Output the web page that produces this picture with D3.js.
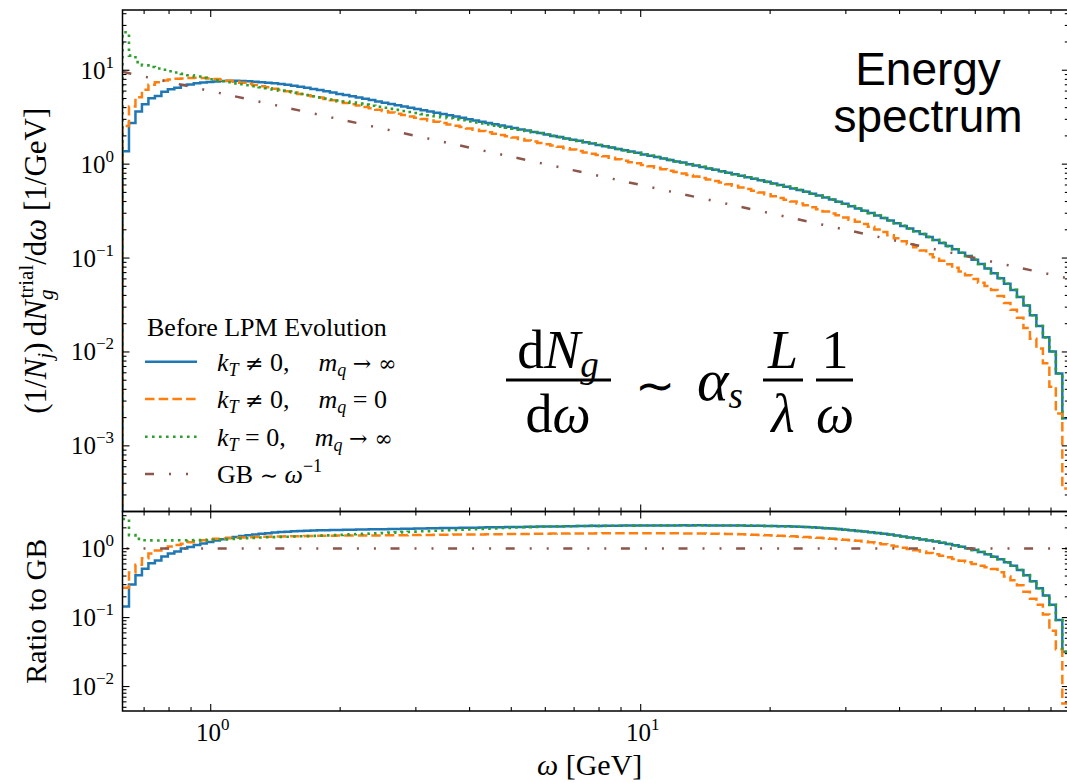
<!DOCTYPE html>
<html><head><meta charset="utf-8">
<script src="https://cdn.jsdelivr.net/npm/d3@7"></script>
<style>
body{margin:0;background:#fff;}
svg text{font-family:"Liberation Serif","Times New Roman",serif;fill:#000;}
</style></head><body>
<svg id="chart" width="1067" height="783" xmlns="http://www.w3.org/2000/svg"></svg>
<script>
// ---- binning (log-spaced histogram bins in omega, GeV) ----
const omegaMin = 0.6235, omegaMax = 99.0, nBins = 146;

// ---- spectrum values per bin (1/GeV) ----
const blueValues = [1.37, 2.75, 3.63, 4.35, 5.03, 5.33, 5.9, 6.28, 6.52, 6.95,
 7.05, 7.25, 7.4, 7.5, 7.6, 7.68, 7.72, 7.72, 7.68, 7.62,
 7.55, 7.47, 7.38, 7.27, 7.14, 6.99, 6.83, 6.66, 6.49, 6.32,
 6.15, 5.97, 5.79, 5.60, 5.44, 5.28, 5.12, 4.97, 4.81, 4.66,
 4.51, 4.38, 4.25, 4.12, 3.99, 3.87, 3.76, 3.64, 3.53, 3.42,
 3.31, 3.21, 3.11, 3.01, 2.92, 2.83, 2.75, 2.66, 2.58, 2.50,
 2.42, 2.34, 2.28, 2.20, 2.14, 2.07, 2.00, 1.94, 1.88, 1.82,
 1.77, 1.71, 1.66, 1.60, 1.55, 1.50, 1.45, 1.41, 1.36, 1.32,
 1.27, 1.23, 1.19, 1.15, 1.11, 1.07, 1.04, 1.00, 0.968, 0.935,
 0.901, 0.870, 0.838, 0.809, 0.780, 0.753, 0.726, 0.699, 0.674, 0.648,
 0.624, 0.600, 0.576, 0.552, 0.530, 0.508, 0.485, 0.463, 0.441, 0.419,
 0.398, 0.378, 0.357, 0.338, 0.319, 0.301, 0.284, 0.267, 0.251, 0.235,
 0.220, 0.206, 0.193, 0.180, 0.168, 0.156, 0.145, 0.134, 0.124, 0.114,
 0.105, 0.0959, 0.0864, 0.0773, 0.0690, 0.0611, 0.0532, 0.0458, 0.0385, 0.0313,
 0.0246, 0.0189, 0.0143, 0.0101, 0.00589, 0.00197];

const orangeValues = [2.55, 4.10, 5.15, 6.18, 6.99, 7.45, 7.77, 7.96, 8.10, 8.16,
 8.26, 8.30, 8.25, 8.18, 8.05, 7.90, 7.73, 7.55, 7.36, 7.17,
 6.97, 6.77, 6.57, 6.37, 6.17, 5.98, 5.79, 5.60, 5.43, 5.27,
 5.11, 4.95, 4.79, 4.64, 4.48, 4.34, 4.20, 4.05, 3.93, 3.79,
 3.67, 3.55, 3.44, 3.33, 3.22, 3.12, 3.02, 2.92, 2.83, 2.74,
 2.65, 2.57, 2.48, 2.40, 2.33, 2.25, 2.18, 2.11, 2.04, 1.98,
 1.92, 1.85, 1.79, 1.74, 1.68, 1.63, 1.58, 1.53, 1.48, 1.43,
 1.38, 1.33, 1.29, 1.25, 1.21, 1.17, 1.13, 1.09, 1.05, 1.02,
 0.981, 0.948, 0.915, 0.884, 0.852, 0.823, 0.793, 0.765, 0.737, 0.711,
 0.685, 0.660, 0.636, 0.611, 0.587, 0.565, 0.542, 0.520, 0.498, 0.477,
 0.456, 0.437, 0.418, 0.399, 0.381, 0.364, 0.347, 0.330, 0.314, 0.299,
 0.285, 0.270, 0.256, 0.243, 0.230, 0.216, 0.202, 0.189, 0.175, 0.163,
 0.151, 0.140, 0.130, 0.120, 0.110, 0.102, 0.0938, 0.0861, 0.0788, 0.0719,
 0.0656, 0.0598, 0.0545, 0.0503, 0.0458, 0.0395, 0.0332, 0.0282, 0.0232, 0.0180,
 0.0138, 0.0109, 0.0076, 0.00427, 0.00221, 0.000351];

const greenValues = [25.4, 14.3, 12.2, 11.27, 10.81, 10.44, 10.11, 9.76, 9.45, 9.15,
 8.85, 8.57, 8.30, 8.03, 7.80, 7.62, 7.45, 7.25, 7.08, 6.92,
 6.76, 6.60, 6.42, 6.25, 6.07, 5.91, 5.74, 5.59, 5.43, 5.28,
 5.14, 5.01, 4.88, 4.76, 4.64, 4.52, 4.41, 4.30, 4.19, 4.08,
 3.98, 3.88, 3.78, 3.68, 3.59, 3.50, 3.41, 3.32, 3.24, 3.16,
 3.08, 3.00, 2.93, 2.85, 2.78, 2.71, 2.64, 2.57, 2.51, 2.44,
 2.38, 2.32, 2.25, 2.19, 2.13, 2.07, 2.00, 1.94, 1.88, 1.82,
 1.77, 1.71, 1.66, 1.60, 1.55, 1.50, 1.45, 1.41, 1.36, 1.32,
 1.27, 1.23, 1.19, 1.15, 1.11, 1.07, 1.04, 1.00, 0.968, 0.935,
 0.901, 0.870, 0.838, 0.809, 0.780, 0.753, 0.726, 0.699, 0.674, 0.648,
 0.624, 0.600, 0.576, 0.552, 0.530, 0.508, 0.485, 0.463, 0.441, 0.419,
 0.398, 0.378, 0.357, 0.338, 0.319, 0.301, 0.284, 0.267, 0.251, 0.235,
 0.220, 0.206, 0.193, 0.180, 0.168, 0.156, 0.145, 0.134, 0.124, 0.114,
 0.105, 0.0959, 0.0864, 0.0773, 0.0690, 0.0611, 0.0532, 0.0458, 0.0385, 0.0313,
 0.0246, 0.0189, 0.0143, 0.0101, 0.00589, 0.00197];

// GB ~ 1/omega reference line (end points)
const gbOmega = [0.6235, 99.0];
const gbValues = [9.62, 0.0606];

// axis limits and ticks
const topRange = [2.0e-4, 43.8];
const ratioRange = [0.00442, 3.45];
const xMajor = [1, 10];
const xMajorLabels = ["0", "1"];
const topMajor = [1e-3, 1e-2, 1e-1, 1, 10];
const topMajorLabels = ["\u22123", "\u22122", "\u22121", "0", "1"];
const botMajor = [1e-2, 1e-1, 1];
const botMajorLabels = ["\u22122", "\u22121", "0"];

const SYM = 'font-family="DejaVu Serif"';
const legendLabels = [
  '<tspan font-style="italic">k</tspan><tspan font-style="italic" font-size="18" dy="5">T</tspan><tspan dy="-5"> </tspan><tspan ' + SYM + ' font-size="22">\u2260</tspan> 0,<tspan dx="29" font-style="italic">m</tspan><tspan font-style="italic" font-size="18" dy="5">q</tspan><tspan dy="-5"> </tspan><tspan ' + SYM + ' font-size="22">\u2192 \u221E</tspan>',
  '<tspan font-style="italic">k</tspan><tspan font-style="italic" font-size="18" dy="5">T</tspan><tspan dy="-5"> </tspan><tspan ' + SYM + ' font-size="22">\u2260</tspan> 0,<tspan dx="29" font-style="italic">m</tspan><tspan font-style="italic" font-size="18" dy="5">q</tspan><tspan dy="-5"> = 0</tspan>',
  '<tspan font-style="italic">k</tspan><tspan font-style="italic" font-size="18" dy="5">T</tspan><tspan dy="-5"> = 0,</tspan><tspan dx="29" font-style="italic">m</tspan><tspan font-style="italic" font-size="18" dy="5">q</tspan><tspan dy="-5"> </tspan><tspan ' + SYM + ' font-size="22">\u2192 \u221E</tspan>',
  'GB <tspan ' + SYM + ' font-size="22">\u223C</tspan> <tspan font-style="italic">\u03C9</tspan><tspan font-size="18" dy="-11">\u22121</tspan>'
];

// ---------------- drawing ----------------
const svg = d3.select('#chart');
const X0 = 122.5, X1 = 1068.8, T0 = 10, T1 = 511.5, B1 = 711;
const x = d3.scaleLog().domain([omegaMin, omegaMax]).range([X0, X1]);
const yTop = d3.scaleLog().domain(topRange).range([T1, T0]);
const yBot = d3.scaleLog().domain(ratioRange).range([B1, T1]);

const edges = d3.range(nBins + 1).map(i => omegaMin * Math.pow(omegaMax / omegaMin, i / nBins));
const centers = d3.range(nBins).map(i => Math.sqrt(edges[i] * edges[i + 1]));
const gbLog = d3.scaleLog().domain(gbOmega).range(gbValues.map(Math.log10));
const gbAt = w => Math.pow(10, gbLog(w));

const defs = svg.append('defs');
defs.append('clipPath').attr('id', 'clipTop').append('rect')
  .attr('x', X0).attr('y', T0).attr('width', X1 - X0).attr('height', T1 - T0);
defs.append('clipPath').attr('id', 'clipBot').append('rect')
  .attr('x', X0).attr('y', T1).attr('width', X1 - X0).attr('height', B1 - T1);

const series = [
  {values: blueValues, color: '#1f77b4', dash: null, w: 2.5},
  {values: orangeValues, color: '#ff7f0e', dash: '9.5 4.2', w: 2.5},
  {values: greenValues, color: '#2ca02c', dash: '2.6 4.4', w: 2.6},
];
const gbStyle = {color: '#8c564b', dash: '9 15 2 15 2 14.6', w: 2.5};

function stepPts(values, drop, floorVal) {
  const pts = [];
  if (drop) pts.push([edges[0], floorVal]);
  values.forEach((v, i) => pts.push([edges[i], v]));
  pts.push([edges[nBins], values[nBins - 1]]);
  if (drop) pts.push([edges[nBins], floorVal]);
  return pts;
}

const gTop = svg.append('g').attr('clip-path', 'url(#clipTop)');
const gBot = svg.append('g').attr('clip-path', 'url(#clipBot)');

series.forEach(s => {
  const lineTop = d3.line().x(d => x(d[0])).y(d => yTop(d[1])).curve(d3.curveStepAfter);
  gTop.append('path').attr('d', lineTop(stepPts(s.values, true, 1e-7)))
    .attr('fill', 'none').attr('stroke', s.color).attr('stroke-width', s.w)
    .attr('stroke-dasharray', s.dash);
  const ratio = s.values.map((v, i) => v / gbAt(centers[i]));
  const lineBot = d3.line().x(d => x(d[0])).y(d => yBot(d[1])).curve(d3.curveStepAfter);
  gBot.append('path').attr('d', lineBot(stepPts(ratio, false)))
    .attr('fill', 'none').attr('stroke', s.color).attr('stroke-width', s.w)
    .attr('stroke-dasharray', s.dash);
});

// GB lines
const gbPts = gbOmega.map((w, i) => [w, gbValues[i]]);
gTop.append('path').attr('d', d3.line().x(d => x(d[0])).y(d => yTop(d[1]))(gbPts))
  .attr('fill', 'none').attr('stroke', gbStyle.color).attr('stroke-width', gbStyle.w)
  .attr('stroke-dasharray', gbStyle.dash);
gBot.append('path').attr('d', d3.line().x(d => x(d[0])).y(d => yBot(d[1] / gbAt(d[0])))(gbPts))
  .attr('fill', 'none').attr('stroke', gbStyle.color).attr('stroke-width', gbStyle.w)
  .attr('stroke-dasharray', gbStyle.dash).attr('stroke-dashoffset', 20);

// spines
const axG = svg.append('g');
[[T0, T1], [T1, B1]].forEach(([a, b]) => {
  axG.append('rect').attr('x', X0).attr('y', a).attr('width', X1 - X0).attr('height', b - a)
    .attr('fill', 'none').attr('stroke', '#000').attr('stroke-width', 1.5);
});

function minorsFor(lo, hi) {
  const out = [];
  for (let d = Math.floor(Math.log10(lo)) ; d <= Math.ceil(Math.log10(hi)); d++) {
    for (let k = 2; k <= 9; k++) {
      const v = k * Math.pow(10, d);
      if (v > lo * 1.001 && v < hi * 0.999) out.push(v);
    }
  }
  return out;
}

function yTicks(scale, majors, range) {
  const mins = minorsFor(range[0], range[1]);
  const add = (v, len) => {
    const yy = scale(v);
    axG.append('line').attr('x1', X0).attr('x2', X0 + len).attr('y1', yy).attr('y2', yy)
      .attr('stroke', '#000').attr('stroke-width', 1.1);
    axG.append('line').attr('x1', X1).attr('x2', X1 - len).attr('y1', yy).attr('y2', yy)
      .attr('stroke', '#000').attr('stroke-width', 1.1);
  };
  majors.forEach(v => add(v, 7));
  mins.forEach(v => add(v, 4));
}
function xTicks(ya, yb) {
  const mins = minorsFor(omegaMin, omegaMax);
  const add = (v, len) => {
    const xx = x(v);
    axG.append('line').attr('x1', xx).attr('x2', xx).attr('y1', ya).attr('y2', ya + len)
      .attr('stroke', '#000').attr('stroke-width', 1.1);
    axG.append('line').attr('x1', xx).attr('x2', xx).attr('y1', yb).attr('y2', yb - len)
      .attr('stroke', '#000').attr('stroke-width', 1.1);
  };
  xMajor.forEach(v => add(v, 7));
  mins.forEach(v => add(v, 4));
}
yTicks(yTop, topMajor, topRange);
yTicks(yBot, botMajor, ratioRange);
xTicks(T0, T1);
xTicks(T1, B1);

// tick labels
function powLabel(g, px, py, anchor, exp) {
  g.append('text').attr('x', px).attr('y', py).attr('text-anchor', anchor)
    .attr('font-size', 25)
    .html('10<tspan font-size="17" dy="-11">' + exp + '</tspan>');
}
topMajor.forEach((v, i) => powLabel(svg, 114, yTop(v) + 8.5, 'end', topMajorLabels[i]));
botMajor.forEach((v, i) => powLabel(svg, 114, yBot(v) + 8.5, 'end', botMajorLabels[i]));
xMajor.forEach((v, i) => powLabel(svg, x(v) + 2, 741, 'middle', xMajorLabels[i]));

// axis labels
svg.append('text').attr('transform', `translate(46,${(T0 + T1) / 2}) rotate(-90)`)
  .attr('text-anchor', 'middle').attr('font-size', 31)
  .html('(1/<tspan font-style="italic">N</tspan><tspan font-style="italic" font-size="21" dy="6">j</tspan><tspan dy="-6">)\u2009d</tspan><tspan font-style="italic">N</tspan><tspan font-style="italic" font-size="21" dy="7">g</tspan><tspan font-size="21" dx="-9" dy="-20">trial</tspan><tspan dy="13">/d</tspan><tspan font-style="italic">\u03C9</tspan> [1/GeV]');
svg.append('text').attr('transform', `translate(46,${(T1 + B1) / 2}) rotate(-90)`)
  .attr('text-anchor', 'middle').attr('font-size', 30).text('Ratio to GB');
svg.append('text').attr('x', (X0 + X1) / 2 - 6).attr('y', 775).attr('text-anchor', 'middle')
  .attr('font-size', 30).html('<tspan font-style="italic">\u03C9</tspan> [GeV]');

// legend
const leg = svg.append('g');
leg.append('text').attr('x', 147).attr('y', 336).attr('font-size', 26).text('Before LPM Evolution');
const legRows = [361.7, 399, 436.7, 474];
const legStyles = series.concat([gbStyle]);
legStyles.forEach((s, i) => {
  leg.append('line').attr('x1', 145).attr('x2', 197).attr('y1', legRows[i]).attr('y2', legRows[i])
    .attr('stroke', s.color).attr('stroke-width', s.w).attr('stroke-dasharray', s.dash);
  leg.append('text').attr('x', 217).attr('y', legRows[i] + 9).attr('font-size', 26)
    .html(legendLabels[i]);
});

// formula
const fg = svg.append('g').attr('font-size', 54);
fg.append('text').attr('x', 558).attr('y', 368).attr('text-anchor', 'middle')
  .html('d<tspan font-style="italic">N</tspan><tspan font-style="italic" font-size="37" dy="9">g</tspan>');
fg.append('line').attr('x1', 506).attr('x2', 611).attr('y1', 380).attr('y2', 380).attr('stroke', '#000').attr('stroke-width', 2.8);
fg.append('text').attr('x', 558).attr('y', 432).attr('text-anchor', 'middle')
  .html('d<tspan font-style="italic">\u03C9</tspan>');
fg.append('text').attr('x', 655).attr('y', 402).attr('text-anchor', 'middle')
  .attr('font-family', 'DejaVu Serif').attr('font-size', 48).text('\u223C');
fg.append('text').attr('x', 697).attr('y', 400)
  .html('<tspan font-style="italic" font-size="60">\u03B1</tspan><tspan font-style="italic" font-size="37" dy="8">s</tspan>');
fg.append('text').attr('x', 783).attr('y', 368).attr('text-anchor', 'middle').attr('font-style', 'italic').text('L');
fg.append('line').attr('x1', 763).attr('x2', 803).attr('y1', 380).attr('y2', 380).attr('stroke', '#000').attr('stroke-width', 2.8);
fg.append('text').attr('x', 783).attr('y', 432).attr('text-anchor', 'middle').attr('font-style', 'italic').text('\u03BB');
fg.append('text').attr('x', 835).attr('y', 368).attr('text-anchor', 'middle').text('1');
fg.append('line').attr('x1', 816).attr('x2', 853).attr('y1', 380).attr('y2', 380).attr('stroke', '#000').attr('stroke-width', 2.8);
fg.append('text').attr('x', 835).attr('y', 432).attr('text-anchor', 'middle').attr('font-style', 'italic').text('\u03C9');

// Energy spectrum
const es = svg.append('g').attr('font-size', 46).attr('text-anchor', 'middle');
es.append('text').attr('x', 928).attr('y', 85).style('font-family', '"Liberation Sans", Arial, sans-serif').text('Energy');
es.append('text').attr('x', 928).attr('y', 132).style('font-family', '"Liberation Sans", Arial, sans-serif').text('spectrum');
</script>
</body></html>
